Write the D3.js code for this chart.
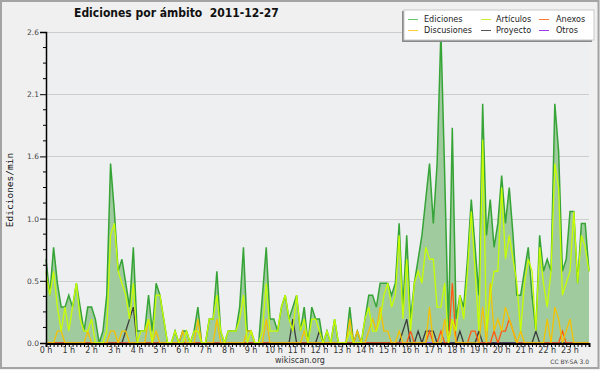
<!DOCTYPE html>
<html>
<head>
<meta charset="utf-8">
<script src="https://d3js.org/d3.v7.min.js"></script>
<style>
  body { margin: 0; background: #f0f0f0; }
  svg { display: block; }
</style>
</head>
<body>
<svg id="chart" width="600" height="370"></svg>
<script>
// edits per minute, one value every 10 minutes (144 slots for the day)
const ediciones = [
  0.7,0.4,0.8,0.5,0.3,0.3,0.4,0.3,0.5,0.3,0.1,0.3,
  0.3,0.2,0,0.1,0.4,1.5,1.1,0.6,0.7,0.5,0.3,0.8,
  0.1,0.1,0.1,0.4,0.1,0.5,0.4,0.2,0,0,0.1,0,
  0.1,0.1,0,0.1,0.3,0,0,0.2,0.2,0.6,0.1,0,
  0.1,0.1,0.1,0.3,0.8,0.1,0.1,0,0,0.4,0.8,0.2,
  0.2,0.1,0.3,0.4,0.2,0.3,0.4,0.1,0.3,0,0.3,0.2,
  0.2,0,0.1,0,0.2,0,0,0,0.3,0,0.1,0,
  0.2,0.4,0.4,0.3,0.5,0.5,0.5,0.4,0.5,1.0,0.3,0.9,
  0.2,0.5,0.7,0.9,1.2,1.5,1.0,1.5,2.6,1.4,0.1,1.8,
  0.2,0.4,0.3,0.7,1.2,0.8,0.4,2.0,0.9,1.2,0.8,1.0,
  1.4,1.0,1.3,0.9,0.4,0.4,0.6,0.8,0.4,0.1,0.9,0.6,
  0.7,0.6,2.0,1.6,0.6,0.7,1.1,1.1,0.5,1.0,1.0,0.6
];
const articulos = [
  0.6,0.4,0.6,0.3,0.1,0.3,0.1,0.3,0.5,0.2,0.1,0.1,
  0.2,0,0,0,0.1,0.9,1.0,0.6,0.5,0.4,0.2,0.5,
  0,0.1,0.1,0.2,0,0.4,0.4,0.2,0,0,0.1,0,
  0,0.1,0,0.1,0.1,0,0,0.2,0.2,0.4,0.1,0,
  0.1,0.1,0.1,0.2,0.4,0,0.1,0,0,0.1,0.5,0.1,
  0.1,0.1,0.3,0.4,0.2,0.1,0.4,0.1,0.2,0,0.2,0.2,
  0.1,0,0.1,0,0.2,0,0,0,0.1,0,0,0,
  0.2,0.3,0.1,0.1,0.2,0.4,0.5,0.3,0.4,0.9,0.2,0.7,
  0.1,0.5,0.6,0.5,0.8,0.7,0.7,0.3,0.3,0.5,0,0.2,
  0.1,0.4,0.2,0.6,1.1,0.6,0.1,1.7,0.1,0.4,0.6,0.6,
  1.3,0.7,0.9,0.7,0.5,0.1,0.5,0.7,0.6,0.1,0.8,0.5,
  0.3,0.6,1.5,1.3,0.4,0.5,0.6,1.1,0.5,0.9,0.8,0.6
];
const discusiones = [
  0,0,0,0.1,0.1,0,0,0,0,0,0,0.1,
  0,0,0,0,0,0.1,0.1,0,0.1,0.1,0,0,
  0,0,0,0.2,0,0.1,0,0,0,0,0,0,
  0.1,0,0,0,0.2,0,0,0,0,0.2,0,0,
  0,0,0,0,0,0.1,0.1,0,0,0,0.2,0,
  0,0,0,0,0,0,0,0,0.1,0,0,0,
  0,0,0,0,0,0,0,0,0.2,0,0.1,0,
  0,0.1,0.2,0.1,0.3,0.1,0.1,0,0,0.1,0,0,
  0,0,0,0,0,0.3,0,0,0,0.2,0,0.2,
  0,0,0,0,0,0,0,0.3,0,0.5,0.1,0.2,
  0.1,0.3,0.2,0.1,0,0.1,0,0,0,0,0,0,
  0.2,0,0.3,0.2,0,0.1,0.2,0,0,0,0,0
];
const anexos = [
  0,0,0,0,0,0,0,0,0,0,0,0,
  0,0,0,0,0,0,0,0,0,0,0,0,
  0,0,0,0,0,0,0,0,0,0,0,0,
  0,0,0,0,0,0,0,0,0,0,0,0,
  0,0,0,0,0,0,0,0,0,0,0,0,
  0,0,0,0,0,0,0,0,0,0,0,0,
  0,0,0,0,0,0,0,0,0,0,0,0,
  0,0,0,0,0,0,0,0,0,0,0,0,
  0.1,0,0,0,0,0.1,0,0,0.1,0,0,0.5,
  0,0,0,0,0.1,0.1,0,0,0,0,0.1,0,
  0.1,0.1,0.2,0.1,0,0,0,0,0,0,0,0,
  0,0,0,0,0.1,0,0,0,0,0,0,0
];
const proyecto = [
  0,0,0,0,0,0,0,0,0,0,0,0,
  0,0,0,0,0,0,0,0,0,0.1,0.2,0.3,
  0,0,0,0,0,0,0,0,0,0,0,0,
  0,0,0,0,0,0,0,0,0,0,0,0,
  0,0,0,0,0,0,0,0,0,0,0,0,
  0,0,0,0,0,0.2,0,0,0,0,0,0,
  0.1,0,0,0,0,0,0,0,0,0,0,0,
  0,0,0,0,0,0,0,0,0,0,0.1,0.2,
  0,0,0.1,0,0.1,0.1,0.1,0,0,0,0,0,
  0,0.1,0,0,0,0,0.1,0,0,0,0,0,
  0,0,0,0,0,0,0,0,0,0.1,0,0,
  0,0,0,0,0,0,0,0,0,0,0,0
];
const otros = [
  0,0,0,0,0,0,0,0,0,0,0,0,
  0,0,0,0,0,0,0,0,0,0,0,0,
  0,0,0,0,0,0,0,0,0,0,0,0,
  0,0,0,0,0,0,0,0,0,0,0,0,
  0,0,0,0,0,0,0,0,0,0,0,0,
  0,0,0,0,0,0,0,0,0,0,0,0,
  0,0,0,0,0,0,0,0,0,0,0,0,
  0,0,0,0,0,0,0,0,0,0,0,0,
  0,0,0,0,0,0,0,0,0,0,0,0,
  0,0,0,0,0,0,0,0,0,0,0,0,
  0,0,0,0,0,0,0,0,0,0,0,0,
  0,0,0,0,0,0,0,0,0,0,0,0
];

const hours = [0,1,2,3,4,5,6,7,8,9,10,11,12,13,14,15,16,17,18,19,20,21,22,23];
const yTicks = [0, 0.52, 1.04, 1.56, 2.08, 2.6];

const legendItems = [
  { name: "Ediciones", color: "#66c866" },
  { name: "Artículos", color: "#c8ee33" },
  { name: "Anexos", color: "#ff7a3a" },
  { name: "Discusiones", color: "#ffcc33" },
  { name: "Proyecto", color: "#555555" },
  { name: "Otros", color: "#9b3cf0" },
];

const svg = d3.select("#chart");
const W = 600, H = 370;
const plotLeft = 46, plotRight = 589, plotTop = 32, plotBottom = 343;

svg.append("rect").attr("width", W).attr("height", H).attr("fill", "#f0f0f0");
svg.append("rect")
  .attr("x", 1).attr("y", 1).attr("width", W - 2.5).attr("height", H - 3)
  .attr("fill", "none").attr("stroke", "#a4a4a4").attr("stroke-width", 2);

svg.append("rect")
  .attr("x", plotLeft).attr("y", plotTop)
  .attr("width", plotRight - plotLeft).attr("height", plotBottom - plotTop)
  .attr("fill", "#eeeff1");

const x = d3.scaleLinear().domain([0, 143]).range([plotLeft, plotRight]);
const y = d3.scaleLinear().domain([0, 2.6]).range([plotBottom, plotTop]);

// grid
svg.append("g")
  .selectAll("line")
  .data(yTicks.slice(1))
  .join("line")
  .attr("x1", plotLeft).attr("x2", plotRight)
  .attr("y1", (d) => Math.round(y(d)) + 0.5).attr("y2", (d) => Math.round(y(d)) + 0.5)
  .attr("stroke", "#cdcdcd");

const line = (vals) =>
  d3.line().x((d, i) => x(i)).y((d) => y(d))(vals);

const area = d3.area().x((d, i) => x(i)).y0(y(0)).y1((d) => y(d));

svg.append("path").attr("d", area(ediciones)).attr("fill", "#9fcb9f");
svg.append("path").attr("d", line(ediciones))
  .attr("fill", "none").attr("stroke", "#36a436").attr("stroke-width", 1.5);

const others = [
  { values: otros, color: "#9b3cf0" },
  { values: proyecto, color: "#3c3c3c" },
  { values: anexos, color: "#ff5a10" },
  { values: discusiones, color: "#f5c200" },
  { values: articulos, color: "#c8ff00" },
];
others.forEach((s) => {
  svg.append("path").attr("d", line(s.values))
    .attr("fill", "none").attr("stroke", s.color).attr("stroke-width", 1.3);
});

// y axis
const yAxis = d3.axisLeft(y)
  .tickValues(yTicks)
  .tickSize(6)
  .tickFormat((d) => d.toFixed(1));
const gy = svg.append("g").attr("transform", `translate(${plotLeft},0)`).call(yAxis);
gy.select(".domain").attr("stroke", "#000").attr("stroke-width", 1.5);
gy.selectAll(".tick line").attr("stroke", "#000");
gy.selectAll(".tick text")
  .attr("x", -7).attr("fill", "#444")
  .style("font", "7.5px 'DejaVu Sans'");

const yMinor = d3.range(0, 2.61, 0.13).filter((v) => !yTicks.some((t) => Math.abs(t - v) < 0.01));
svg.append("g").selectAll("line").data(yMinor).join("line")
  .attr("x1", plotLeft - 3).attr("x2", plotLeft)
  .attr("y1", (d) => y(d)).attr("y2", (d) => y(d))
  .attr("stroke", "#000");

// x axis: a tick every 10 minutes, labels every hour
const xAxis = d3.axisBottom(x)
  .tickValues(d3.range(0, 144))
  .tickSize(3.5)
  .tickFormat("");
const gx = svg.append("g").attr("transform", `translate(0,${plotBottom + 0.5})`).call(xAxis);
gx.select(".domain").attr("stroke", "#000").attr("stroke-width", 2);
gx.selectAll(".tick line").attr("stroke", "#000");

svg.append("g").selectAll("text").data(hours).join("text")
  .attr("x", (h) => x(h * 6))
  .attr("y", 353)
  .attr("text-anchor", "middle")
  .attr("fill", "#333")
  .style("font", "8px 'DejaVu Sans'")
  .text((h) => `${h} h`);

// titles
svg.append("text")
  .attr("x", 74).attr("y", 17)
  .style("font", "bold 12px 'DejaVu Sans Condensed'")
  .style("white-space", "pre")
  .attr("fill", "#111")
  .text("Ediciones por ámbito  2011-12-27");

svg.append("text")
  .attr("transform", "translate(13,190) rotate(-90)")
  .attr("text-anchor", "middle")
  .style("font", "9.5px 'DejaVu Sans Mono'")
  .attr("fill", "#111")
  .text("Ediciones/min");

svg.append("text")
  .attr("x", 300).attr("y", 363)
  .attr("text-anchor", "middle")
  .style("font", "8px 'DejaVu Sans'")
  .attr("fill", "#333")
  .text("wikiscan.org");

svg.append("text")
  .attr("x", 589).attr("y", 364)
  .attr("text-anchor", "end")
  .style("font", "6px 'DejaVu Sans'")
  .attr("fill", "#444")
  .text("CC BY-SA 3.0");

// legend
const lg = svg.append("g");
lg.append("rect").attr("x", 402).attr("y", 11).attr("width", 190).attr("height", 31).attr("fill", "#8a8a8a");
lg.append("rect").attr("x", 404).attr("y", 10).attr("width", 190).attr("height", 30)
  .attr("fill", "#fff").attr("stroke", "#c8c8c8");

const colX = [408, 481, 539];
const textX = [424, 496, 556];
const rowY = [19, 30];
legendItems.forEach((item, i) => {
  const c = i % 3, r = Math.floor(i / 3);
  lg.append("line")
    .attr("x1", colX[c]).attr("x2", colX[c] + 10)
    .attr("y1", rowY[r] + 0.5).attr("y2", rowY[r] + 0.5)
    .attr("stroke", item.color);
  lg.append("text")
    .attr("x", textX[c]).attr("y", rowY[r] + 3.2)
    .style("font", "9px 'DejaVu Sans Condensed'")
    .attr("fill", "#222")
    .text(item.name);
});
</script>
</body>
</html>
